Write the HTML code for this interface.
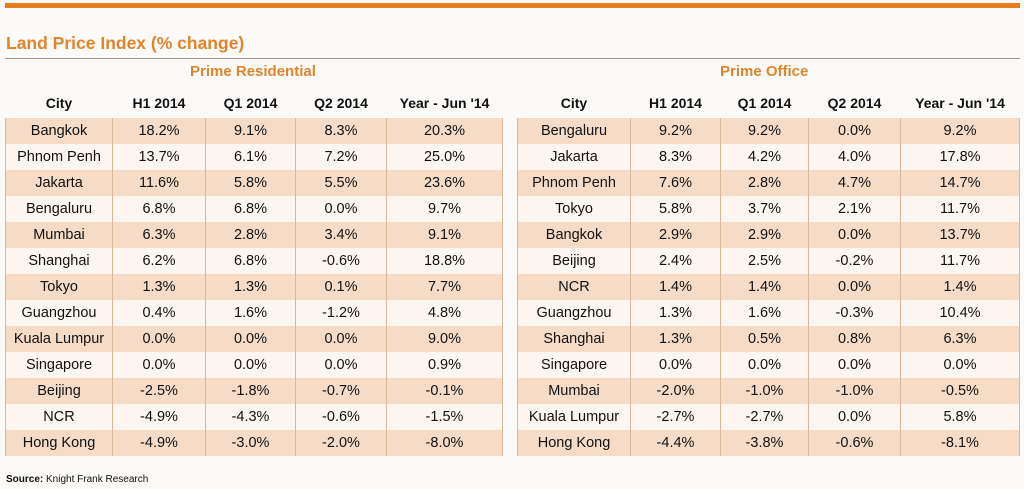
<!DOCTYPE html>
<html><head><meta charset="utf-8"><style>
body{margin:0;width:1024px;height:489px;background:#fbfaf8;font-family:"Liberation Sans",Arial,sans-serif;position:relative;overflow:hidden}
.bar{position:absolute;left:5px;top:3px;width:1015px;height:5px;background:#e87d1e}
.title{position:absolute;left:6px;top:33px;font-size:17.5px;font-weight:bold;color:#e0842c}
.rule{position:absolute;left:5px;top:58px;width:1015px;height:1px;background:#999}
.sec{position:absolute;top:63px;font-size:15px;font-weight:bold;color:#e0842c}
table{position:absolute;top:88px;border-collapse:collapse;font-size:14.5px;color:#111}
td,th{text-align:center;padding:0;height:26px}
th{height:30px;font-weight:bold;font-size:14px}
td{border-left:1px solid #d9b89a;border-right:1px solid #d9b89a}
tbody tr:nth-child(odd){background:#f6dcc7}
tbody tr:nth-child(even){background:#fdf6f0}
.src{position:absolute;left:6px;top:474px;font-size:10px;color:#111}
</style></head><body>
<div class="bar"></div>
<div class="title">Land Price Index (% change)</div>
<div class="rule"></div>
<div class="sec" style="left:190px">Prime Residential</div>
<div class="sec" style="left:720px">Prime Office</div>
<table style="left:5px">
<colgroup><col style="width:107px"><col style="width:93px"><col style="width:90px"><col style="width:91px"><col style="width:116px"></colgroup>
<thead><tr><th>City</th><th>H1 2014</th><th>Q1 2014</th><th>Q2 2014</th><th>Year - Jun '14</th></tr></thead>
<tbody id="rb"></tbody></table>
<table style="left:517px">
<colgroup><col style="width:113px"><col style="width:90px"><col style="width:88px"><col style="width:92px"><col style="width:119px"></colgroup>
<thead><tr><th>City</th><th>H1 2014</th><th>Q1 2014</th><th>Q2 2014</th><th>Year - Jun '14</th></tr></thead>
<tbody id="ob"></tbody></table>
<div class="src"><b>Source:</b> Knight Frank Research</div>
<script>
const resCities=["Bangkok","Phnom Penh","Jakarta","Bengaluru","Mumbai","Shanghai","Tokyo","Guangzhou","Kuala Lumpur","Singapore","Beijing","NCR","Hong Kong"];
const resH1=["18.2%","13.7%","11.6%","6.8%","6.3%","6.2%","1.3%","0.4%","0.0%","0.0%","-2.5%","-4.9%","-4.9%"];
const resQ1=["9.1%","6.1%","5.8%","6.8%","2.8%","6.8%","1.3%","1.6%","0.0%","0.0%","-1.8%","-4.3%","-3.0%"];
const resQ2=["8.3%","7.2%","5.5%","0.0%","3.4%","-0.6%","0.1%","-1.2%","0.0%","0.0%","-0.7%","-0.6%","-2.0%"];
const resYr=["20.3%","25.0%","23.6%","9.7%","9.1%","18.8%","7.7%","4.8%","9.0%","0.9%","-0.1%","-1.5%","-8.0%"];
const offCities=["Bengaluru","Jakarta","Phnom Penh","Tokyo","Bangkok","Beijing","NCR","Guangzhou","Shanghai","Singapore","Mumbai","Kuala Lumpur","Hong Kong"];
const offH1=["9.2%","8.3%","7.6%","5.8%","2.9%","2.4%","1.4%","1.3%","1.3%","0.0%","-2.0%","-2.7%","-4.4%"];
const offQ1=["9.2%","4.2%","2.8%","3.7%","2.9%","2.5%","1.4%","1.6%","0.5%","0.0%","-1.0%","-2.7%","-3.8%"];
const offQ2=["0.0%","4.0%","4.7%","2.1%","0.0%","-0.2%","0.0%","-0.3%","0.8%","0.0%","-1.0%","0.0%","-0.6%"];
const offYr=["9.2%","17.8%","14.7%","11.7%","13.7%","11.7%","1.4%","10.4%","6.3%","0.0%","-0.5%","5.8%","-8.1%"];
function fill(id,c,a,b,d,e,p){const tb=document.getElementById(id);
c.forEach((city,i)=>{const tr=document.createElement('tr');


[city,a[i],b[i],d[i],e[i]].forEach(v=>{const td=document.createElement('td');td.textContent=v;tr.appendChild(td);});
tb.appendChild(tr);});}
fill('rb',resCities,resH1,resQ1,resQ2,resYr,'residential');
fill('ob',offCities,offH1,offQ1,offQ2,offYr,'office');
</script>
</body></html>
